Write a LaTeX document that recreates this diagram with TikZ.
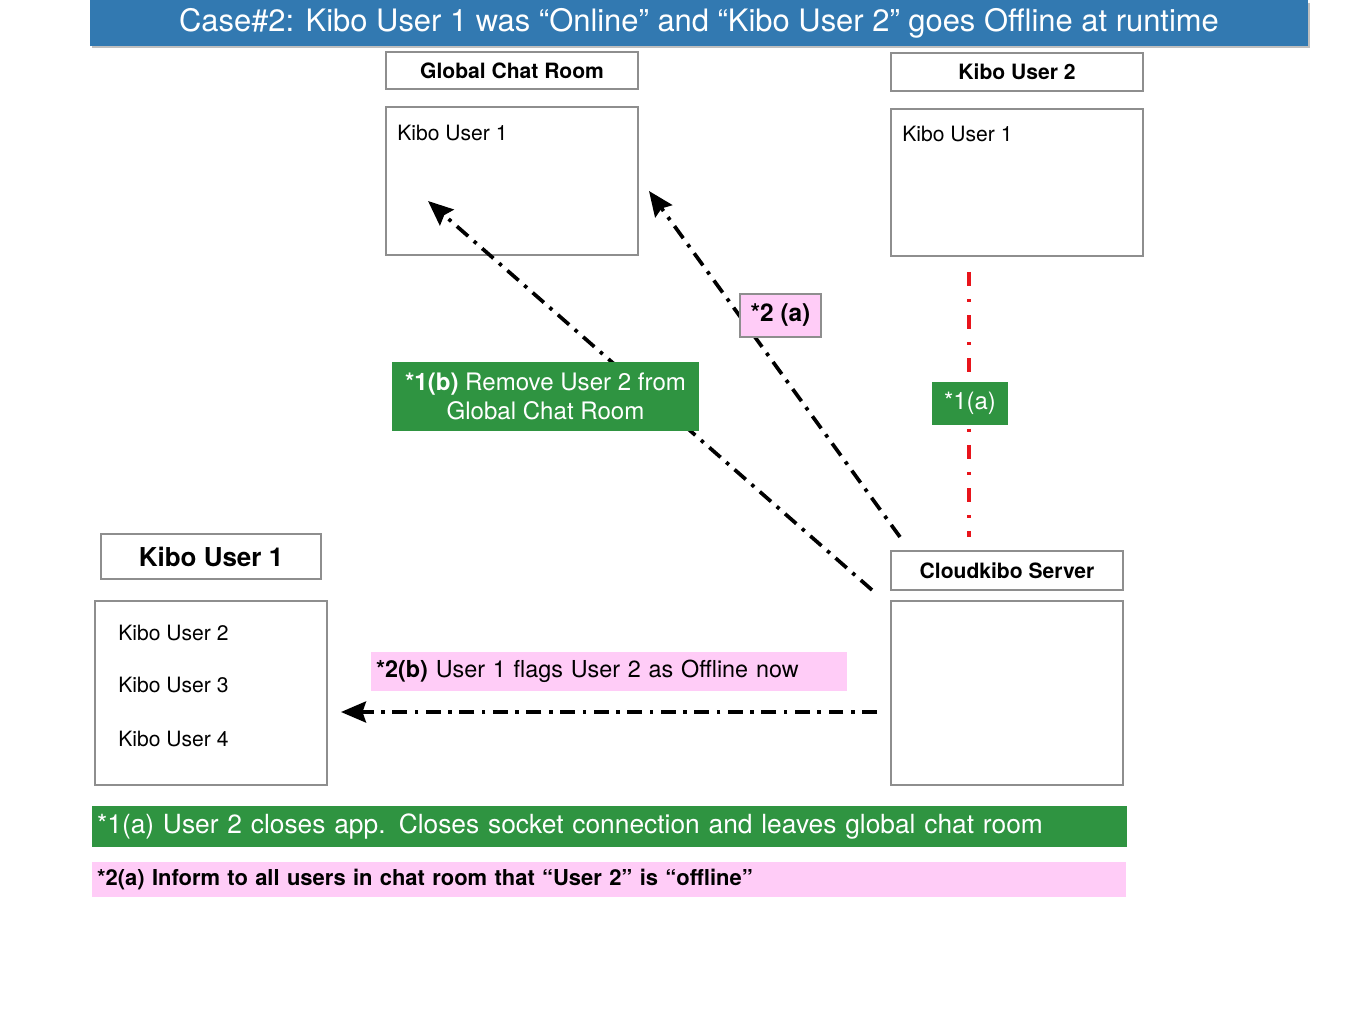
\documentclass[tikz,border=0pt]{standalone}
\usepackage{fontspec}
\setmainfont{TeX Gyre Heros}
\usepackage{tikz}
\usetikzlibrary{arrows.meta, positioning}
\usepackage{xcolor}
\definecolor{bandblue}{HTML}{3279B1}
\definecolor{notegreen}{HTML}{2F9441}
\definecolor{notepink}{HTML}{FFCCF7}
\definecolor{boxgray}{HTML}{8E8E8E}
\definecolor{linkred}{HTML}{E8141B}
\tikzset{
  box/.style={draw=boxgray, line width=1.4pt, fill=white, inner sep=0pt},
  headtxt/.style={font=\fontsize{12}{14}\selectfont\bfseries},
  itemtxt/.style={font=\fontsize{12}{14}\selectfont, inner sep=0pt, anchor=west},
  greennote/.style={fill=notegreen, text=white, inner sep=0pt},
  pinknote/.style={fill=notepink, text=black, inner sep=0pt},
  flow/.style={line width=2.1pt, dash pattern=on 8.5pt off 4.3pt on 2pt off 4.3pt,
    -{Stealth[length=5mm, width=4.2mm, inset=0.7mm]}},
  drop/.style={line width=1.8pt, linkred, dash pattern=on 8pt off 7.4pt on 1.8pt off 7.4pt}
}
\begin{document}
\begin{tikzpicture}[x=0.02cm, y=-0.02cm]
  \useasboundingbox (0,0) rectangle (1365,1023);
  % title band
  \fill[black!25] (92,3) rectangle (1310,48);
  \node[fill=bandblue, text=white, minimum width=24.36cm, minimum height=0.92cm, inner sep=0pt,
    font=\fontsize{17.6}{19}\selectfont] (title) at (699,23) {Case\#2: Kibo User 1 was “Online” and “Kibo User 2” goes Offline at runtime};

  % boxes
  \node[box, headtxt, minimum width=5.04cm, minimum height=0.74cm] (gcrhead) at (512,70.5) {Global Chat Room};
  \node[box, minimum width=5.04cm, minimum height=2.96cm] (gcrbox) at (512,181) {};
  \node[itemtxt] (gcrtext) at (397,133) {Kibo User 1};

  \node[box, headtxt, minimum width=5.04cm, minimum height=0.76cm] (kutwohead) at (1017,72) {Kibo User 2};
  \node[box, minimum width=5.04cm, minimum height=2.94cm] (kutwobox) at (1017,182.5) {};
  \node[itemtxt] (kutwotext) at (902,134) {Kibo User 1};

  \node[box, font=\fontsize{14.8}{16}\selectfont\bfseries, minimum width=4.4cm, minimum height=0.9cm] (kuonehead) at (211,556.5) {Kibo User 1};
  \node[box, minimum width=4.64cm, minimum height=3.68cm] (kuonebox) at (211,693) {};
  \node[itemtxt] (itemtwo) at (118,633) {Kibo User 2};
  \node[itemtxt] (itemthree) at (118,685) {Kibo User 3};
  \node[itemtxt] (itemfour) at (118,739) {Kibo User 4};

  \node[box, headtxt, minimum width=4.64cm, minimum height=0.78cm] (serverhead) at (1007,570.5) {Cloudkibo Server};
  \node[box, minimum width=4.64cm, minimum height=3.68cm] (serverbox) at (1007,693) {};

  % connectors
  \coordinate (droptop) at (969,272);
  \coordinate (dropend) at (969,537);
  \draw[drop] (droptop) -- (dropend);
  \coordinate (removestart) at (872,590);
  \coordinate (removeend) at (428,201);
  \draw[flow] (removestart) -- (removeend);
  \coordinate (informstart) at (900,537);
  \coordinate (informend) at (649,191);
  \draw[flow] (informstart) -- (informend);
  \coordinate (flagstart) at (877,712);
  \coordinate (flagend) at (341,712);
  \draw[flow] (flagstart) -- (flagend);

  % labels
  \node[greennote, minimum width=1.52cm, minimum height=0.86cm, font=\fontsize{13.6}{15}\selectfont] (closenote) at (970,403.5) {*1(a)};
  \node[pinknote, draw=boxgray, line width=1.4pt, minimum width=1.62cm, minimum height=0.86cm,
    font=\fontsize{13.9}{15}\selectfont\bfseries] (informnote) at (780.5,315.5) {*2 (a)};
  \node[greennote, minimum width=6.14cm, minimum height=1.38cm, align=center,
    font=\fontsize{13.7}{16.5}\selectfont] (removenote) at (545.5,396.5) {\textbf{*1(b)} Remove User 2 from\\Global Chat Room};
  \node[pinknote, minimum width=9.52cm, minimum height=0.78cm, text width=9.32cm,
    font=\fontsize{13.3}{15}\selectfont] (flagnote) at (609,671.5) {\textbf{*2(b)} User 1 flags User 2 as Offline now};

  % legend
  \node[greennote, minimum width=20.7cm, minimum height=0.82cm, text width=20.5cm,
    font=\fontsize{15}{17}\selectfont] (closelegend) at (609.5,826.5) {*1(a) User 2 closes app. Closes socket connection and leaves global chat room};
  \node[pinknote, minimum width=20.68cm, minimum height=0.7cm, text width=20.48cm,
    font=\fontsize{12.5}{14}\selectfont\bfseries] (informlegend) at (609,879.5) {*2(a) Inform to all users in chat room that “User 2” is “offline”};
\end{tikzpicture}
\end{document}
